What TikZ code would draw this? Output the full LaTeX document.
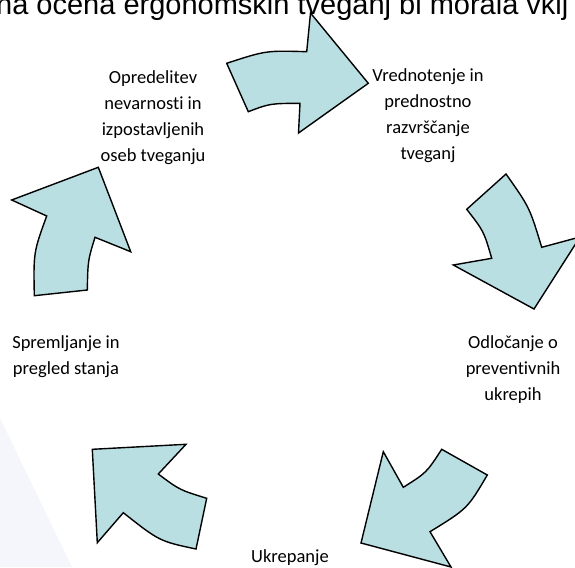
\documentclass[tikz,border=0pt]{standalone}
\usepackage{fontspec}
\setmainfont{Carlito}[Ligatures=NoCommon]
\newfontfamily\titlefont{Liberation Sans}
\usepackage{tikz}
\definecolor{cycFill}{RGB}{185,223,226}
\definecolor{wmFill}{RGB}{245,246,251}
\tikzset{
    cycArrow/.style={draw=black, fill=cycFill, line width=1.4pt},
    stepText/.style={align=center, inner sep=0pt, font=\fontsize{18.5}{26}\selectfont},
    titleText/.style={inner sep=0pt, font=\titlefont\fontsize{29}{34}\selectfont},
    wmark/.style={fill=wmFill},
}
% 步骤文字
\newcommand{\drawStep}[3]{
    \node[stepText] (#1) at (#2) {#3};
}

\begin{document}
\begin{tikzpicture}[x=1pt, y=-1pt]

        \useasboundingbox (0,0) rectangle (575,567);
        \clip (0,0) rectangle (575,567);
        \fill[wmark] (0,418) -- (72,567) -- (0,567) -- cycle;

        \node[titleText, anchor=base west] (title) at (-4,15) {na ocena ergonomskih tveganj bi morala vklj};

        \draw[cycArrow] (226.7,63.3) .. controls (266,50.5) .. (306.7,51.7) -- (310.5,13) -- (368.3,83.3) -- (298.5,133) -- (300,103.3) .. controls (269.9,103.5) .. (248.3,111.7) -- cycle;
        \draw[cycArrow] (506,174) .. controls (529.6,207.4) .. (541.7,247.3) -- (580,237) -- (534,309) -- (453.3,265) -- (491.7,258.3) .. controls (483.8,231.2) .. (466.7,209.3) -- cycle;
        \draw[cycArrow] (487.3,475) .. controls (467.4,508.7) .. (430,531.7) -- (451,567) -- (361,543) -- (383.3,451.7) -- (403.3,487.3) .. controls (426.5,472.7) .. (441.7,449.3) -- cycle;
        \draw[cycArrow] (196,549) .. controls (159.4,541.2) .. (123.3,512.7) -- (97.3,542.7) -- (92.3,449.3) -- (186,444.3) -- (158.3,474) .. controls (179.5,489.9) .. (206.7,498.3) -- cycle;
        \draw[cycArrow] (87.3,290) .. controls (87.9,260.4) .. (95,237.3) -- (130.7,251.7) -- (98.3,167.3) -- (11.7,200) -- (46.7,216) .. controls (33.5,252.2) .. (34.3,295.7) -- cycle;

        \drawStep{opred}{153,118}{Opredelitev\\nevarnosti in\\izpostavljenih\\oseb tveganju}
        \drawStep{vredn}{428,116}{Vrednotenje in\\prednostno\\razvrščanje\\tveganj}
        \drawStep{odloc}{513,370}{Odločanje o\\preventivnih\\ukrepih}
        \drawStep{spreml}{66,357}{Spremljanje in\\pregled stanja}
        \node[stepText, anchor=base] (ukrep) at (290,562) {Ukrepanje};

    \end{tikzpicture}
\end{document}
